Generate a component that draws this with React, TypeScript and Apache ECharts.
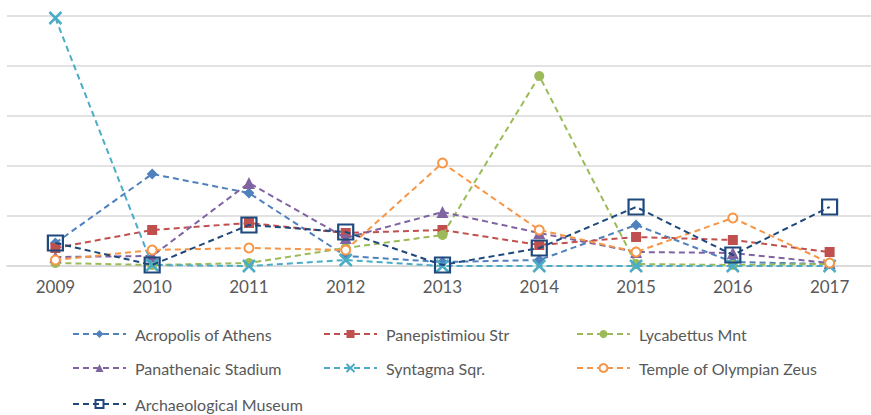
import React, { useEffect, useRef } from "react";
import * as echarts from "echarts";

const years = ["2009", "2010", "2011", "2012", "2013", "2014", "2015", "2016", "2017"];

const acropolis = [23, 92, 73, 10, 4, 6, 41, 4, 2];
const panepistimiou = [18, 36, 43, 33, 36, 21, 29, 26, 14];
const lycabettus = [3, 1, 3, 18, 31, 190, 2, 1, 2];
const panathenaic = [9, 10, 83, 28, 54, 33, 14, 13, 3];
const syntagma = [248, 1, 0, 6, 0, 0, 0, 0, 0];
const templeZeus = [6, 16, 18, 16, 103, 36, 14, 48, 3];
const museum = [23, 1, 41, 34, 1, 18, 59, 11, 59];

const names = [
  "Acropolis of Athens",
  "Panepistimiou Str",
  "Lycabettus Mnt",
  "Panathenaic Stadium",
  "Syntagma Sqr.",
  "Temple of Olympian Zeus",
  "Archaeological Museum",
];

const colors = ["#4F81BD", "#C0504D", "#9BBB59", "#8064A2", "#4BACC6", "#F79646", "#1F497D"];

export default function App() {
  const ref = useRef<HTMLDivElement>(null);
  useEffect(() => {
    if (!ref.current) return;
    document.documentElement.style.overflow = "hidden";
    document.body.style.overflow = "hidden";
    const chart = echarts.init(ref.current, null, { renderer: "svg" });
    const dataSets = [acropolis, panepistimiou, lycabettus, panathenaic, syntagma, templeZeus, museum];
    const symbols = [
      { symbol: "diamond", size: 11, item: (c: string) => ({ color: c }) },
      { symbol: "rect", size: 10, item: (c: string) => ({ color: c }) },
      { symbol: "circle", size: 10, item: (c: string) => ({ color: c }) },
      { symbol: "triangle", size: 12, item: (c: string) => ({ color: c }) },
      {
        symbol: "path://M0,0L10,10M0,10L10,0",
        size: 12,
        item: (c: string) => ({ color: "none", borderColor: c, borderWidth: 2.5 }),
      },
      { symbol: "emptyCircle", size: 9, item: (c: string) => ({ color: c, borderWidth: 2 }) },
      {
        symbol: "rect",
        size: 15,
        item: (c: string) => ({ color: "rgba(255,255,255,0)", borderColor: c, borderWidth: 2.2 }),
      },
    ];
    const series = dataSets.map((d, i) => ({
      name: names[i],
      type: "line",
      data: d,
      symbol: symbols[i].symbol,
      symbolSize: symbols[i].size,
      showAllSymbol: true,
      lineStyle: { color: colors[i], width: 2, type: [6, 4] },
      itemStyle: symbols[i].item(colors[i]),
      z: 2 + i,
    }));
    const legendPos = [
      { left: 72, top: 334 },
      { left: 323, top: 334 },
      { left: 576, top: 334 },
      { left: 72, top: 368 },
      { left: 323, top: 368 },
      { left: 576, top: 368 },
      { left: 72, top: 404 },
    ];
    const legends = names.map((n, i) => ({
      data: [n],
      left: legendPos[i].left,
      top: legendPos[i].top - 8,
      itemWidth: 53,
      itemHeight: 10,
      padding: 0,
      textStyle: { color: "#595959", fontSize: 16, fontFamily: "Lato", padding: [0, 0, 0, 4] },
      selectedMode: false,
    }));
    chart.setOption({
      animation: false,
      backgroundColor: "#ffffff",
      grid: { left: 7, right: 0, top: 16, bottom: 149, containLabel: false },
      xAxis: {
        type: "category",
        data: years,
        boundaryGap: true,
        axisLine: { show: true, lineStyle: { color: "#d9d9d9", width: 1.5 } },
        axisTick: { show: false },
        axisLabel: { color: "#595959", fontSize: 17, fontFamily: "Lato", margin: 12 },
      },
      yAxis: {
        type: "value",
        min: 0,
        max: 250,
        interval: 50,
        axisLabel: { show: false },
        axisLine: { show: false },
        axisTick: { show: false },
        splitLine: { lineStyle: { color: "#d9d9d9", width: 1.5 } },
      },
      legend: legends,
      series,
    });
    return () => chart.dispose();
  }, []);
  return <div ref={ref} style={{ width: 878, height: 415, position: "absolute", left: 0, top: 0 }} />;
}
